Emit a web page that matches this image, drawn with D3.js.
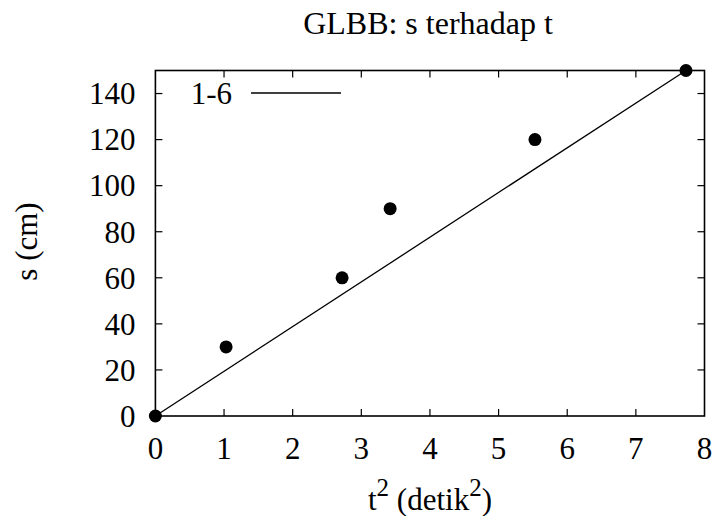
<!DOCTYPE html>
<html><head><meta charset="utf-8">
<script src="https://cdn.jsdelivr.net/npm/d3@7"></script>
</head><body style="margin:0"><svg id="c" width="719" height="516"></svg>
<script>
const tSquared = [0, 1.03, 2.72, 3.42, 5.53, 7.73];
const sValues = [0, 30, 60, 90, 120, 150];
const fitX = [0, 7.73];
const fitY = [0, 150];
const xTicks = [0,1,2,3,4,5,6,7,8];
const yTicks = [0,20,40,60,80,100,120,140];
const legendLabel = "1-6";
const titleText = "GLBB: s terhadap t";

const svg = d3.select("#c");
const T = (sel)=>sel.style("font-family",'"Liberation Serif"');
const m = {l:155.4, r:704.5, t:70.5, b:416};
const x = d3.scaleLinear().domain([0,8]).range([m.l,m.r]);
const y = d3.scaleLinear().domain([0,150]).range([m.b,m.t]);
const fs = 31;

const tl = 7;
const g = svg.append("g").attr("stroke","#000").attr("stroke-width",1.2);
xTicks.forEach(v=>{
  if(v>0 && v<8){
  g.append("line").attr("x1",x(v)).attr("x2",x(v)).attr("y1",m.b).attr("y2",m.b-tl);
  g.append("line").attr("x1",x(v)).attr("x2",x(v)).attr("y1",m.t).attr("y2",m.t+tl);}
});
yTicks.forEach(v=>{
  if(v>0){
  g.append("line").attr("x1",m.l).attr("x2",m.l+tl).attr("y1",y(v)).attr("y2",y(v));
  g.append("line").attr("x1",m.r).attr("x2",m.r-tl).attr("y1",y(v)).attr("y2",y(v));}
});
svg.append("rect").attr("x",m.l).attr("y",m.t).attr("width",m.r-m.l).attr("height",m.b-m.t)
  .attr("fill","none").attr("stroke","#000").attr("stroke-width",1.6);

xTicks.forEach(v=>{
  T(svg.append("text")).attr("x",x(v)).attr("y",458.5).attr("text-anchor","middle")
    .attr("font-size",fs).text(v);
});
yTicks.forEach(v=>{
  T(svg.append("text")).attr("x",m.l-20).attr("y",y(v)+10.8).attr("text-anchor","end")
    .attr("font-size",fs).text(v);
});

const line = d3.line().x((d,i)=>x(fitX[i])).y((d,i)=>y(fitY[i]));
svg.append("path").attr("d",line(fitX)).attr("fill","none").attr("stroke","#000").attr("stroke-width",1.3);

svg.selectAll("circle.p").data(tSquared).enter().append("circle")
  .attr("cx",d=>x(d)).attr("cy",(d,i)=>y(sValues[i])).attr("r",6.5).attr("fill","#000");

T(svg.append("text")).attr("x",232).attr("y",103.5).attr("text-anchor","end").attr("font-size",fs).text(legendLabel);
svg.append("line").attr("x1",251).attr("x2",341).attr("y1",93).attr("y2",93).attr("stroke","#000").attr("stroke-width",1.3);

T(svg.append("text")).attr("x",428).attr("y",33.5).attr("text-anchor","middle").attr("font-size",32).text(titleText);

T(svg.append("text")).attr("transform","translate(37,241.5) rotate(-90)").attr("text-anchor","middle")
  .attr("font-size",31).text("s (cm)");
const xl = T(svg.append("text")).attr("x",430).attr("y",510).attr("text-anchor","middle").attr("font-size",31);
xl.append("tspan").text("t");
xl.append("tspan").attr("dy",-14).attr("font-size",25).text("2");
xl.append("tspan").attr("dy",14).text(" (detik");
xl.append("tspan").attr("dy",-14).attr("font-size",25).text("2");
xl.append("tspan").attr("dy",14).text(")");
</script></body></html>
